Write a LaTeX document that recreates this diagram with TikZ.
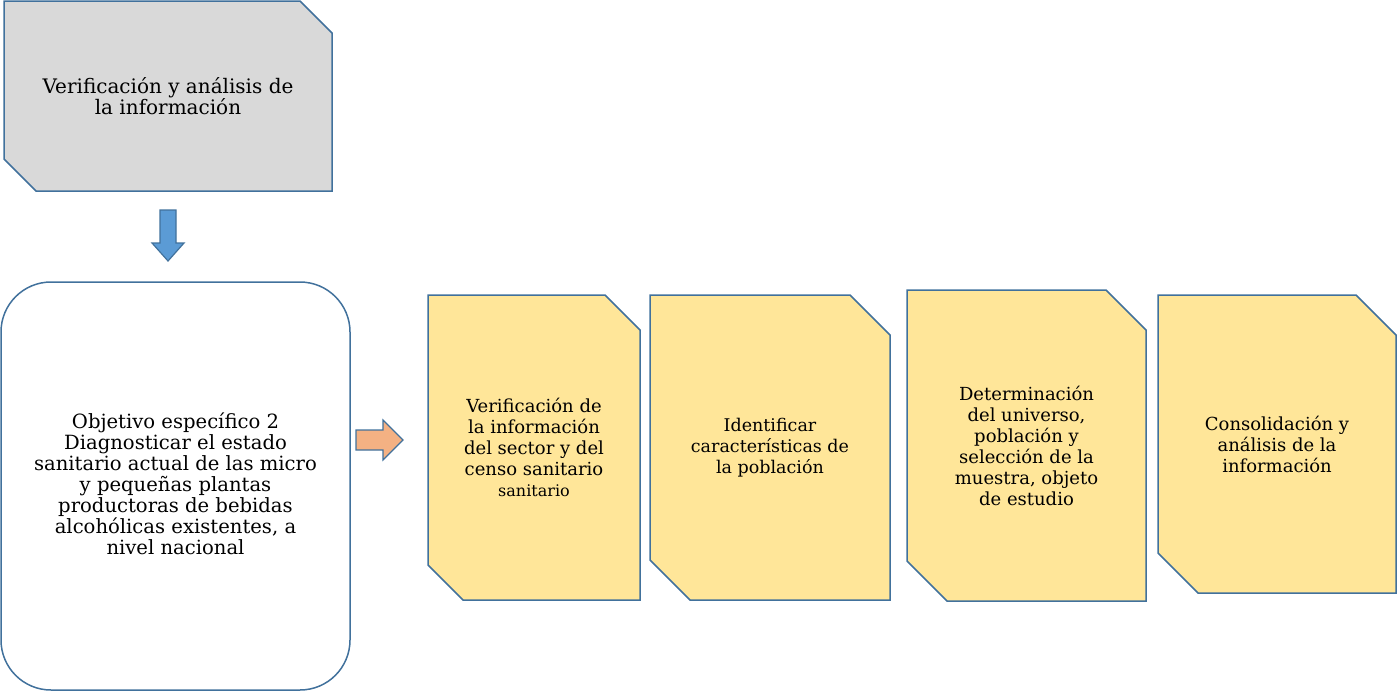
\documentclass[tikz,border=0pt]{standalone}
\usepackage{fontspec}
\setmainfont{DejaVu Serif}
\definecolor{edgeblue}{HTML}{41719C}
\definecolor{boxgray}{HTML}{D9D9D9}
\definecolor{boxyellow}{HTML}{FFE699}
\definecolor{arrowblue}{HTML}{5B9BD5}
\definecolor{arroworange}{HTML}{F4B183}
% snipped box: [node options], name, fill, x1, y1, x2, y2, cut, text
\newcommand{\snipbox}[9][]{%
  \draw[outline, fill=#3] (#4,#5) -- (#6-#8,#5) -- (#6,#5+#8) -- (#6,#7)
    -- (#4+#8,#7) -- (#4,#7-#8) -- cycle;
  \node[label, #1] (#2) at ({(#4+#6)/2},{(#5+#7)/2}) {#9};
}
\begin{document}
\begin{tikzpicture}[
  x=1pt, y=-1pt,
  outline/.style={draw=edgeblue, line width=1.5pt, line join=miter},
  label/.style={align=center, font=\fontsize{18}{21}\selectfont, inner sep=0pt},
  blockarrow/.style={draw=edgeblue, line width=1.2pt}
]
  \useasboundingbox (0,0) rectangle (1397,691);

  % Top step
  \snipbox[font=\fontsize{20}{19.5}\selectfont]{verif}{boxgray}{4}{1}{332}{191}{32}{Verificación y análisis de\\la información}

  % Down block arrow
  \draw[blockarrow, fill=arrowblue] (160,210) -- (176,210) -- (176,243) -- (184,243)
    -- (168,261) -- (152,243) -- (160,243) -- cycle;

  % Specific objective
  \draw[outline, fill=white, rounded corners=50pt] (1,282) rectangle (350,690);
  \node[label, font=\fontsize{19.6}{21}\selectfont] (objetivo) at (175.5,484) {Objetivo específico 2\\Diagnosticar el estado\\sanitario actual de las micro\\y pequeñas plantas\\productoras de bebidas\\alcohólicas existentes, a\\nivel nacional};

  % Right block arrow
  \draw[blockarrow, fill=arroworange] (356,430) -- (383,430) -- (383,420) -- (403,440)
    -- (383,460) -- (383,450) -- (356,450) -- cycle;

  % Activity steps
  \snipbox{sector}{boxyellow}{428}{295}{640}{600}{35}{Verificación de\\la información\\del sector y del\\censo sanitario\\{\fontsize{16}{21}\selectfont sanitario}}
  \snipbox[font=\fontsize{17.5}{21}\selectfont]{caract}{boxyellow}{650}{295}{890}{600}{40}{Identificar\\características de\\la población}
  \snipbox{muestra}{boxyellow}{907}{290}{1146}{601}{40}{Determinación\\del universo,\\población y\\selección de la\\muestra, objeto\\de estudio}
  \snipbox{consol}{boxyellow}{1158}{295}{1396}{593}{40}{Consolidación y\\análisis de la\\información}
\end{tikzpicture}
\end{document}
